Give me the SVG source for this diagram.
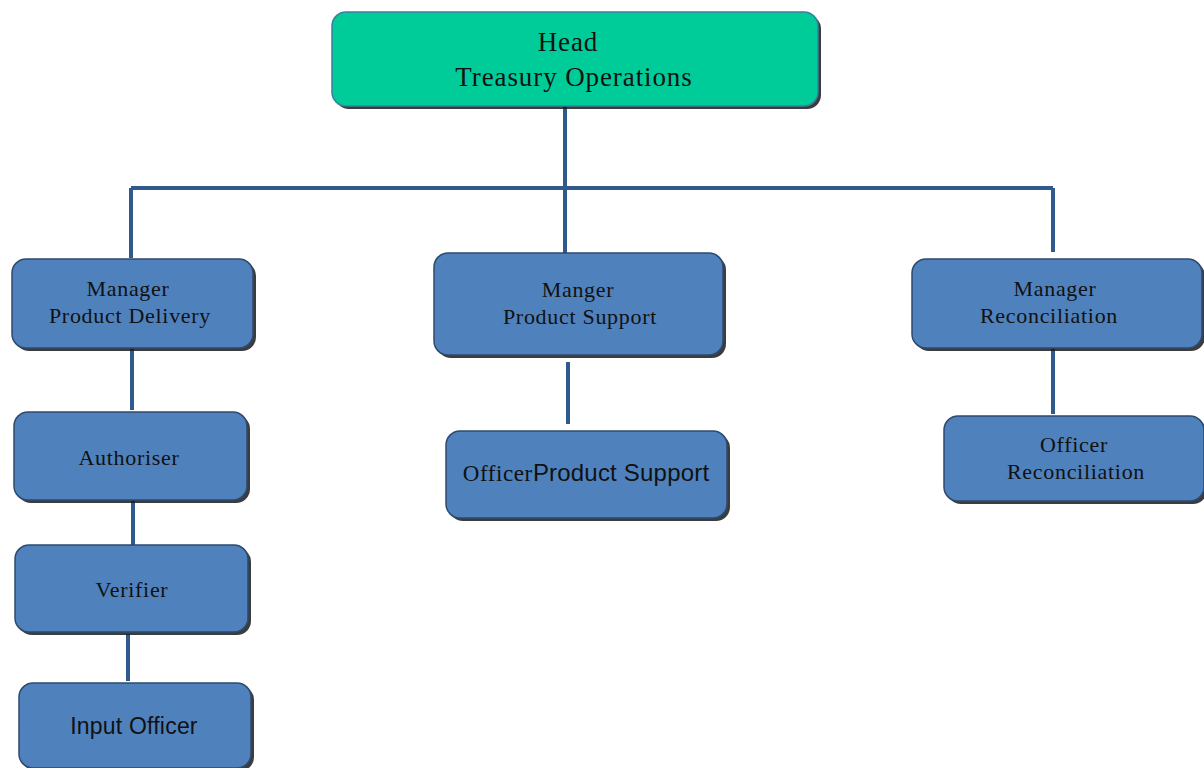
<svg xmlns="http://www.w3.org/2000/svg" width="1204" height="768" viewBox="0 0 1204 768">
<style>
.box{fill:#4F81BD;stroke:#2E4A6E;stroke-width:1.5}
.sh{fill:#1a1a1a;opacity:0.85}
.head{fill:#00CC99;stroke:#3A7FA0;stroke-width:1.5}
.t{font-family:"Liberation Serif",serif;font-size:22px;letter-spacing:0.7px;fill:#111;text-anchor:middle}
.ts{font-family:"Liberation Sans",sans-serif;font-size:23px;letter-spacing:0.2px;fill:#111;text-anchor:middle}
.th{font-family:"Liberation Serif",serif;font-size:27px;letter-spacing:0.9px;fill:#111;text-anchor:middle}
.c{stroke:#2F5A8E;stroke-width:4;fill:none}
</style>
<rect width="1204" height="768" fill="#fff"/>
<g id="connectors">
<path class="c" d="M565 106 V188 M131 188 H1053 M131 188 V258 M565 188 V253 M1053 188 V252"/>
<path class="c" d="M132 348 V410 M133 500 V545 M128 634 V681 M568 362 V424 M1053 348 V414"/>
</g>
<g id="head">
<rect class="sh" x="335" y="15" width="486" height="94" rx="14"/>
<rect class="head" x="332" y="12" width="486" height="94" rx="14"/>
<text class="th" x="568" y="51">Head</text>
<text class="th" x="574" y="86">Treasury Operations</text>
</g>
<g id="mgr-delivery">
<rect class="sh" x="15" y="262" width="241" height="89" rx="14"/>
<rect class="box" x="12" y="259" width="241" height="89" rx="14"/>
<text class="t" x="128" y="296">Manager</text>
<text class="t" x="130" y="323">Product Delivery</text>
</g>
<g id="authoriser">
<rect class="sh" x="17" y="415" width="233" height="88" rx="14"/>
<rect class="box" x="14" y="412" width="233" height="88" rx="14"/>
<text class="t" x="129" y="465">Authoriser</text>
</g>
<g id="verifier">
<rect class="sh" x="18" y="548" width="233" height="87" rx="14"/>
<rect class="box" x="15" y="545" width="233" height="87" rx="14"/>
<text class="t" x="132" y="597">Verifier</text>
</g>
<g id="input-officer">
<rect class="sh" x="22" y="686" width="232" height="85" rx="14"/>
<rect class="box" x="19" y="683" width="232" height="85" rx="14"/>
<text class="ts" x="134" y="734">Input Officer</text>
</g>
<g id="mgr-support">
<rect class="sh" x="437" y="256" width="289" height="102" rx="14"/>
<rect class="box" x="434" y="253" width="289" height="102" rx="14"/>
<text class="t" x="578" y="297">Manger</text>
<text class="t" x="580" y="324">Product Support</text>
</g>
<g id="officer-support">
<rect class="sh" x="449" y="434" width="281" height="87" rx="14"/>
<rect class="box" x="446" y="431" width="281" height="87" rx="14"/>
<text x="586" y="481" text-anchor="middle" fill="#111"><tspan font-family="Liberation Serif, serif" font-size="23" letter-spacing="0.6">Officer</tspan><tspan font-family="Liberation Sans, sans-serif" font-size="24" letter-spacing="0.2">Product Support</tspan></text>
</g>
<g id="mgr-recon">
<rect class="sh" x="915" y="262" width="290" height="89" rx="14"/>
<rect class="box" x="912" y="259" width="290" height="89" rx="14"/>
<text class="t" x="1055" y="296">Manager</text>
<text class="t" x="1049" y="323">Reconciliation</text>
</g>
<g id="officer-recon">
<rect class="sh" x="947" y="419" width="260" height="85" rx="14"/>
<rect class="box" x="944" y="416" width="260" height="85" rx="14"/>
<text class="t" x="1074" y="452">Officer</text>
<text class="t" x="1076" y="479">Reconciliation</text>
</g>
</svg>
